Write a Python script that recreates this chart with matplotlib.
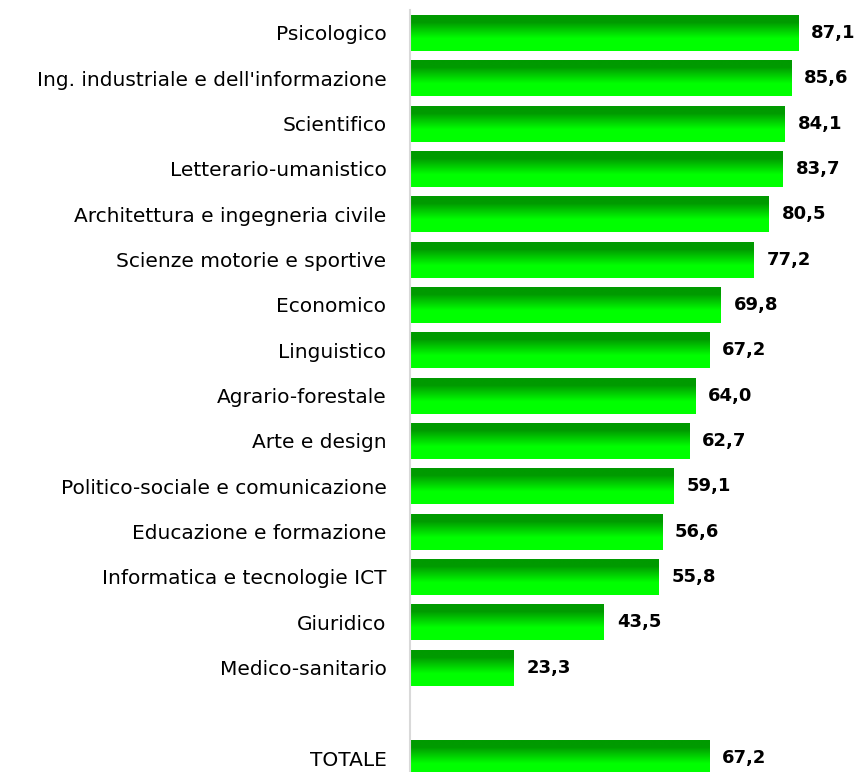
import numpy as np
import matplotlib
matplotlib.use("Agg")
import matplotlib.pyplot as plt
from matplotlib.colors import LinearSegmentedColormap

categories = ["Psicologico", "Ing. industriale e dell'informazione", "Scientifico",
              "Letterario-umanistico", "Architettura e ingegneria civile",
              "Scienze motorie e sportive", "Economico", "Linguistico",
              "Agrario-forestale", "Arte e design", "Politico-sociale e comunicazione",
              "Educazione e formazione", "Informatica e tecnologie ICT",
              "Giuridico", "Medico-sanitario", "TOTALE"]
values = [87.1, 85.6, 84.1, 83.7, 80.5, 77.2, 69.8, 67.2, 64.0, 62.7,
          59.1, 56.6, 55.8, 43.5, 23.3, 67.2]
# TOTALE sits one empty slot below the last category
positions = list(range(15)) + [16]

fig = plt.figure(figsize=(8.61, 7.72), dpi=100)
ax = fig.add_axes([410 / 861, -9 / 772, 445.5 / 861, 770.7 / 772])
ax.set_xlim(0, 100)
ax.set_ylim(16.5, -0.5)

grad = LinearSegmentedColormap.from_list(
    "g", [(0.0, "#009a00"), (0.2, "#009a00"), (0.65, "#00ff00"), (1.0, "#00ff00")])
gimg = np.linspace(0, 1, 256).reshape(-1, 1)

h = 0.79
bars = ax.barh(positions, values, height=h, color="#00ff00", edgecolor="none")
for b, y, v in zip(bars, positions, values):
    im = ax.imshow(gimg, cmap=grad, aspect="auto", origin="upper",
                   extent=(0, v, y + h / 2, y - h / 2), zorder=2)
    im.set_clip_path(b)
    ax.text(v + 2.9, y, f"{v:.1f}".replace(".", ","), va="center", ha="left",
            fontsize=13, fontweight="bold", color="black")

ax.set_xlim(0, 100)
ax.set_ylim(16.5, -0.5)
ax.set_yticks(positions)
ax.set_yticklabels(categories, fontsize=14.5)
ax.tick_params(axis="y", length=0, pad=17)
ax.set_xticks([])
for s in ["top", "right", "bottom"]:
    ax.spines[s].set_visible(False)
ax.spines["left"].set_color("#d9d9d9")
ax.spines["left"].set_linewidth(1.5)

fig.savefig("out.png", dpi=100)
